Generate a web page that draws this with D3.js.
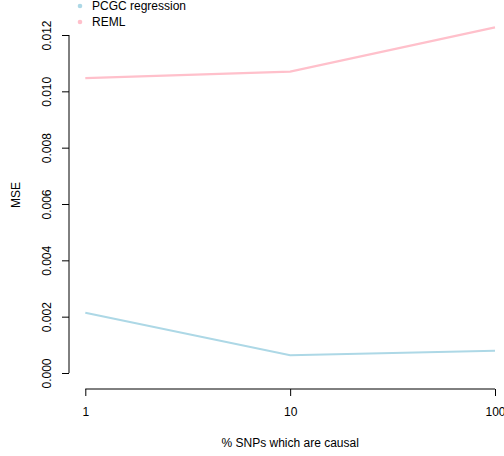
<!DOCTYPE html>
<html>
<head>
<meta charset="utf-8">
<script src="https://cdn.jsdelivr.net/npm/d3@7"></script>
<style>
  html, body { margin: 0; padding: 0; background: #fff; }
  svg { display: block; font-family: "Liberation Sans", Arial, Helvetica, sans-serif; }
</style>
</head>
<body>
<svg id="chart" width="504" height="456"></svg>
<script>
// Percentage of causal SNPs (x, log scale)
const causalPct = [1, 10, 100];
// Mean squared error per method
const pcgcMSE = [0.00214, 0.00063, 0.00079];
const remlMSE = [0.01047, 0.01070, 0.01227];
const seriesNames = ["PCGC regression", "REML"];
const seriesColors = ["lightblue", "pink"];
const yTicks = [0.000, 0.002, 0.004, 0.006, 0.008, 0.010, 0.012];
const xTicks = [1, 10, 100];

const svg = d3.select("#chart");

const x = d3.scaleLog().domain([1, 100]).range([85.3, 495]);
const y = d3.scaleLinear().domain([0, 0.012]).range([373, 35]);

// Y axis (R-style: detached, rotated labels)
const yAxis = svg.append("g").attr("transform", "translate(69,0)")
  .call(d3.axisLeft(y).tickValues(yTicks).tickSize(7).tickSizeOuter(0)
    .tickFormat(d3.format(".3f")));
yAxis.select(".domain").attr("stroke", "#000").attr("d", `M0,${y(0)}V${y(0.012)}`);
yAxis.selectAll(".tick line").attr("stroke", "#000");
yAxis.selectAll(".tick text")
  .attr("font-size", 12).attr("fill", "#000")
  .attr("x", null).attr("dy", null)
  .attr("text-anchor", "middle")
  .attr("transform", "translate(-18,0) rotate(-90)")
  .attr("y", 0);

// X axis
const xAxis = svg.append("g").attr("transform", "translate(0,389)")
  .call(d3.axisBottom(x).tickValues(xTicks).tickSize(7).tickSizeOuter(0)
    .tickFormat(d3.format("d")));
xAxis.select(".domain").attr("stroke", "#000").attr("d", `M${x(1)},0H${x(100)}`);
xAxis.selectAll(".tick line").attr("stroke", "#000");
xAxis.selectAll(".tick text").attr("font-size", 12).attr("fill", "#000").attr("y", 18);

// Axis titles
svg.append("text").attr("x", x(10)).attr("y", 447)
  .attr("text-anchor", "middle").attr("font-size", 12).text("% SNPs which are causal");
svg.append("text").attr("transform", "translate(20,195) rotate(-90)")
  .attr("text-anchor", "middle").attr("font-size", 12).text("MSE");

// Lines
const line = d3.line().x((d, i) => x(causalPct[i])).y(d => y(d));
[pcgcMSE, remlMSE].forEach((vals, k) => {
  svg.append("path").datum(vals)
    .attr("fill", "none").attr("stroke", seriesColors[k])
    .attr("stroke-width", 2.2).attr("d", line);
});

// Legend
seriesNames.forEach((name, k) => {
  const ly = 6 + k * 16;
  svg.append("circle").attr("cx", 80).attr("cy", ly).attr("r", 2.3).attr("fill", seriesColors[k]);
  svg.append("text").attr("x", 92).attr("y", ly + 4).attr("font-size", 12).text(name);
});
</script>
</body>
</html>
